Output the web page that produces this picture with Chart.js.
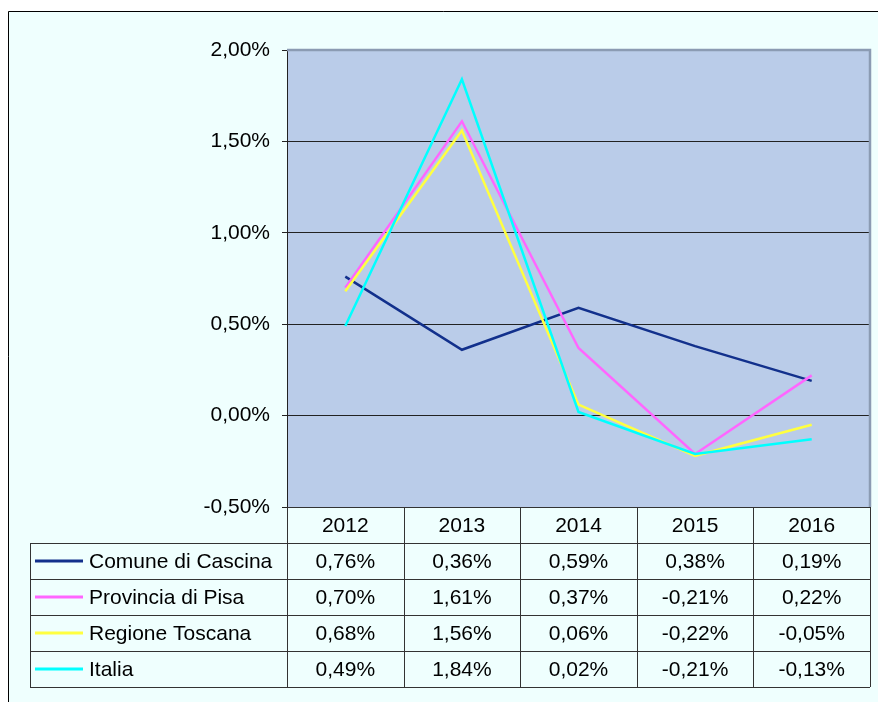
<!DOCTYPE html>
<html>
<head>
<meta charset="utf-8">
<script src="https://cdn.jsdelivr.net/npm/chart.js@4.4.1/dist/chart.umd.min.js"></script>
<style>
  html, body { margin: 0; padding: 0; background: #fff; }
  canvas { display: block; }
</style>
</head>
<body>
<canvas id="popChart" width="878" height="702"></canvas>
<script>
// Variazione percentuale della popolazione
const anni = ['2012', '2013', '2014', '2015', '2016'];
const serieNomi = ['Comune di Cascina', 'Provincia di Pisa', 'Regione Toscana', 'Italia'];
const cascina = [0.76, 0.36, 0.59, 0.38, 0.19];
const pisa = [0.70, 1.61, 0.37, -0.21, 0.22];
const toscana = [0.68, 1.56, 0.06, -0.22, -0.05];
const italia = [0.49, 1.84, 0.02, -0.21, -0.13];
const colori = ['#12308c', '#ff66ff', '#ffff40', '#00ffff'];
const yMin = -0.5, yMax = 2.0, yStep = 0.5;

const serie = [cascina, pisa, toscana, italia];
const FONT = '21px "Liberation Sans", Arial, sans-serif';

function fmt(v) {
    return v.toFixed(2).replace('.', ',') + '%';
}

// sfondo, riquadro del grafico e tabella dati sotto l'area del grafico
const tabellaPlugin = {
    id: 'tabella',
    beforeDraw(chart) {
        const ctx = chart.ctx;
        const a = chart.chartArea;
        ctx.save();
        ctx.fillStyle = '#ffffff';
        ctx.fillRect(0, 0, chart.width, chart.height);
        ctx.fillStyle = '#effffe';
        ctx.fillRect(8, 11, chart.width - 8, chart.height - 11);
        ctx.strokeStyle = '#000';
        ctx.lineWidth = 1;
        ctx.beginPath();
        ctx.moveTo(8.5, chart.height);
        ctx.lineTo(8.5, 11.5);
        ctx.lineTo(chart.width, 11.5);
        ctx.stroke();
        ctx.fillStyle = '#bacce9';
        ctx.fillRect(a.left, a.top, a.right - a.left, a.bottom - a.top);
        ctx.restore();
    },
    afterDraw(chart) {
        const ctx = chart.ctx;
        const a = chart.chartArea;
        const x = chart.scales.x;
        const passo = x.getPixelForValue(1) - x.getPixelForValue(0);
        const headH = 36, rowH = 36;
        const legL = 30;
        const tTop = a.bottom + headH;
        const tBot = tTop + rowH * serie.length;

        ctx.save();
        // bordo grigio in alto e a destra dell'area del grafico
        ctx.strokeStyle = '#8b9bb3';
        ctx.lineWidth = 2.5;
        ctx.beginPath();
        ctx.moveTo(a.left, a.top);
        ctx.lineTo(a.right, a.top);
        ctx.lineTo(a.right, a.bottom);
        ctx.stroke();

        ctx.strokeStyle = '#333';
        ctx.lineWidth = 1;
        ctx.beginPath();
        // asse x
        ctx.moveTo(a.left, a.bottom + 0.5);
        ctx.lineTo(a.right, a.bottom + 0.5);
        // righe della tabella
        for (let r = 0; r <= serie.length; r++) {
            const yy = Math.round(tTop + r * rowH) + 0.5;
            ctx.moveTo(legL, yy);
            ctx.lineTo(a.right, yy);
        }
        ctx.moveTo(legL + 0.5, tTop);
        ctx.lineTo(legL + 0.5, tBot);
        // colonne
        for (let i = 0; i <= anni.length; i++) {
            const xx = Math.round(x.getPixelForValue(i) - passo / 2) + 0.5;
            ctx.moveTo(xx, a.bottom);
            ctx.lineTo(xx, tBot);
        }
        ctx.stroke();

        ctx.font = FONT;
        ctx.fillStyle = '#000';
        ctx.textBaseline = 'middle';
        ctx.textAlign = 'center';
        anni.forEach((anno, i) => {
            ctx.fillText(anno, x.getPixelForValue(i), a.bottom + headH / 2 + 1);
        });
        serie.forEach((vals, r) => {
            const yc = tTop + r * rowH + rowH / 2;
            ctx.textAlign = 'center';
            vals.forEach((v, i) => {
                ctx.fillText(fmt(v), x.getPixelForValue(i), yc + 1.5);
            });
            // chiave della legenda
            ctx.strokeStyle = colori[r];
            ctx.lineWidth = 3;
            ctx.beginPath();
            ctx.moveTo(35, yc);
            ctx.lineTo(83, yc);
            ctx.stroke();
            ctx.textAlign = 'left';
            ctx.fillText(serieNomi[r], 89, yc + 1.5);
        });
        ctx.restore();
    }
};

const ctx = document.getElementById('popChart').getContext('2d');
new Chart(ctx, {
    type: 'line',
    data: {
        labels: anni,
        datasets: serie.map((vals, i) => ({
            label: serieNomi[i],
            data: vals,
            borderColor: colori[i],
            borderWidth: 2.5,
            pointRadius: 0,
            tension: 0,
            fill: false,
            order: serie.length - i
        }))
    },
    options: {
        responsive: false,
        animation: false,
        devicePixelRatio: 1,
        layout: { padding: { top: 50, right: 8, bottom: 195, left: 0 } },
        plugins: {
            legend: { display: false },
            tooltip: { enabled: false }
        },
        scales: {
            x: {
                type: 'category',
                offset: true,
                display: false
            },
            y: {
                min: yMin,
                max: yMax,
                afterFit(scale) { scale.width = 287; },
                border: { color: '#222', width: 1 },
                grid: { color: '#222', lineWidth: 1, tickLength: 5 },
                ticks: {
                    stepSize: yStep,
                    padding: 12,
                    color: '#000',
                    font: { family: '"Liberation Sans", Arial, sans-serif', size: 21 },
                    callback: v => fmt(v)
                }
            }
        }
    },
    plugins: [tabellaPlugin]
});
</script>
</body>
</html>
